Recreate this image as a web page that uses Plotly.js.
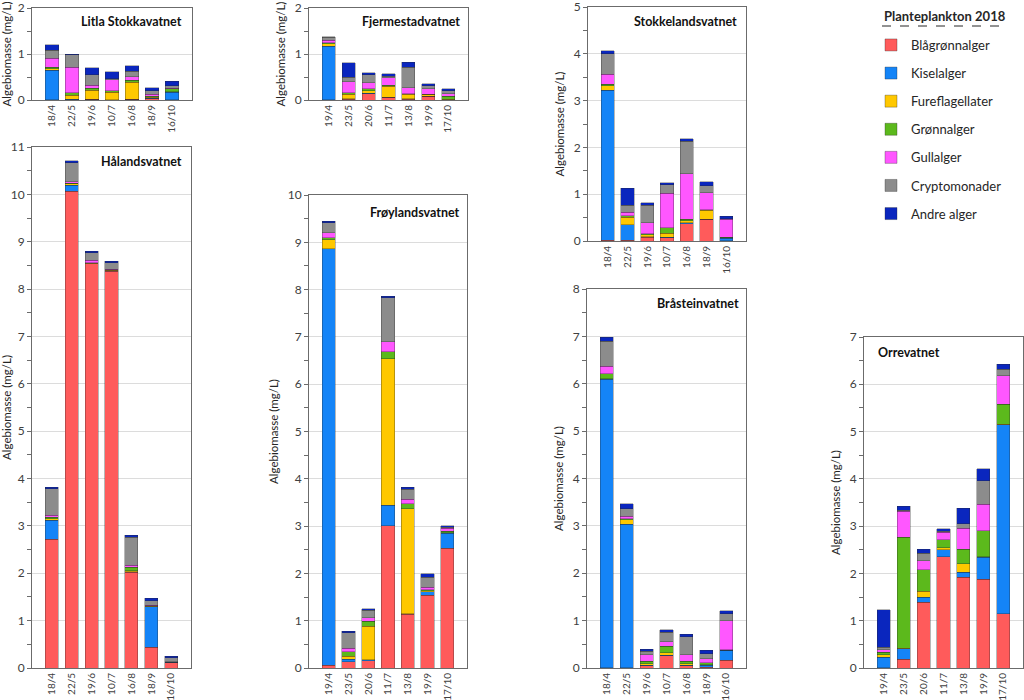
<!DOCTYPE html>
<html>
<head>
<meta charset="utf-8">
<script src="https://cdn.plot.ly/plotly-3.0.1.min.js"></script>
<style>html,body{margin:0;padding:0;background:#fff;}#chart{width:1024px;height:700px;}</style>
</head>
<body>
<div id="chart"></div>
<script>
// ---------- categories ----------
const datesA = ['18/4','22/5','19/6','10/7','16/8','18/9','16/10'];
const datesB = ['19/4','23/5','20/6','11/7','13/8','19/9','17/10'];

const groupNames = ['Blågrønnalger','Kiselalger','Fureflagellater','Grønnalger','Gullalger','Cryptomonader','Andre alger'];
const groupColors = ['#FF5B5B','#1484F7','#FFC800','#5CB91C','#FF57FF','#8C8C8C','#0A26BE'];

// ---------- Litla Stokkavatnet ----------
const litla_blaagronn = [0.01,0.01,0.02,0.01,0.02,0.03,0.01];
const litla_kisel     = [0.64,0.01,0.00,0.00,0.00,0.01,0.16];
const litla_fure      = [0.03,0.08,0.19,0.16,0.37,0.02,0.01];
const litla_gronn     = [0.03,0.06,0.05,0.03,0.04,0.02,0.06];
const litla_gull      = [0.20,0.55,0.06,0.24,0.08,0.05,0.02];
const litla_crypto    = [0.17,0.27,0.23,0.02,0.11,0.07,0.05];
const litla_andre     = [0.12,0.01,0.15,0.15,0.13,0.07,0.10];

// ---------- Fjermestadvatnet ----------
const fjerm_blaagronn = [0.01,0.02,0.14,0.06,0.02,0.08,0.01];
const fjerm_kisel     = [1.16,0.01,0.01,0.00,0.01,0.00,0.00];
const fjerm_fure      = [0.05,0.09,0.05,0.24,0.09,0.04,0.01];
const fjerm_gronn     = [0.03,0.04,0.05,0.02,0.02,0.01,0.06];
const fjerm_gull      = [0.05,0.24,0.12,0.16,0.13,0.12,0.06];
const fjerm_crypto    = [0.06,0.09,0.18,0.04,0.44,0.06,0.06];
const fjerm_andre     = [0.02,0.32,0.04,0.05,0.11,0.04,0.05];

// ---------- Stokkelandsvatnet ----------
const stokk_blaagronn = [0.02,0.02,0.08,0.07,0.37,0.46,0.01];
const stokk_kisel     = [3.20,0.33,0.01,0.01,0.02,0.01,0.05];
const stokk_fure      = [0.10,0.16,0.04,0.09,0.04,0.19,0.01];
const stokk_gronn     = [0.03,0.03,0.02,0.11,0.04,0.01,0.01];
const stokk_gull      = [0.21,0.07,0.24,0.74,0.97,0.36,0.38];
const stokk_crypto    = [0.44,0.15,0.37,0.18,0.69,0.15,0.02];
const stokk_andre     = [0.06,0.37,0.06,0.05,0.06,0.09,0.05];

// ---------- Hålandsvatnet ----------
const haal_blaagronn  = [2.72,10.07,8.53,8.38,2.02,0.44,0.11];
const haal_kisel      = [0.40,0.12,0.01,0.01,0.01,0.85,0.01];
const haal_fure       = [0.03,0.03,0.01,0.01,0.02,0.01,0.00];
const haal_gronn      = [0.03,0.02,0.01,0.01,0.08,0.01,0.01];
const haal_gull       = [0.05,0.03,0.05,0.01,0.04,0.01,0.00];
const haal_crypto     = [0.55,0.40,0.16,0.14,0.59,0.10,0.09];
const haal_andre      = [0.04,0.04,0.03,0.03,0.04,0.05,0.03];

// ---------- Frøylandsvatnet ----------
const froy_blaagronn  = [0.06,0.13,0.15,3.01,1.14,1.54,2.53];
const froy_kisel      = [8.80,0.06,0.02,0.43,0.01,0.07,0.32];
const froy_fure       = [0.19,0.06,0.71,3.10,2.22,0.02,0.01];
const froy_gronn      = [0.05,0.09,0.11,0.15,0.10,0.02,0.03];
const froy_gull       = [0.10,0.08,0.07,0.21,0.10,0.06,0.06];
const froy_crypto     = [0.21,0.33,0.16,0.93,0.21,0.21,0.03];
const froy_andre      = [0.03,0.03,0.03,0.03,0.04,0.07,0.03];

// ---------- Bråsteinvatnet ----------
const braa_blaagronn  = [0.01,0.01,0.05,0.26,0.05,0.02,0.16];
const braa_kisel      = [6.08,3.02,0.01,0.01,0.01,0.04,0.21];
const braa_fure       = [0.02,0.10,0.03,0.05,0.03,0.01,0.01];
const braa_gronn      = [0.10,0.02,0.05,0.14,0.05,0.04,0.01];
const braa_gull       = [0.16,0.05,0.14,0.09,0.14,0.09,0.61];
const braa_crypto     = [0.53,0.16,0.07,0.20,0.38,0.10,0.14];
const braa_andre      = [0.08,0.11,0.05,0.06,0.05,0.07,0.07];

// ---------- Orrevatnet ----------
const orre_blaagronn  = [0.01,0.19,1.39,2.35,1.92,1.88,1.15];
const orre_kisel      = [0.22,0.22,0.11,0.15,0.11,0.46,3.99];
const orre_fure       = [0.05,0.01,0.12,0.04,0.17,0.01,0.01];
const orre_gronn      = [0.05,2.35,0.46,0.17,0.31,0.55,0.43];
const orre_gull       = [0.06,0.55,0.19,0.16,0.45,0.56,0.60];
const orre_crypto     = [0.05,0.02,0.16,0.02,0.09,0.50,0.14];
const orre_andre      = [0.79,0.08,0.08,0.06,0.33,0.25,0.10];

const lakeNames = ['Litla Stokkavatnet','Fjermestadvatnet','Stokkelandsvatnet','Hålandsvatnet','Frøylandsvatnet','Bråsteinvatnet','Orrevatnet'];
const lakeDates = [datesA, datesB, datesA, datesA, datesB, datesA, datesB];
const lakeYMax  = [2, 2, 5, 11, 10, 8, 7];
const lakeSeries = [
  [litla_blaagronn, litla_kisel, litla_fure, litla_gronn, litla_gull, litla_crypto, litla_andre],
  [fjerm_blaagronn, fjerm_kisel, fjerm_fure, fjerm_gronn, fjerm_gull, fjerm_crypto, fjerm_andre],
  [stokk_blaagronn, stokk_kisel, stokk_fure, stokk_gronn, stokk_gull, stokk_crypto, stokk_andre],
  [haal_blaagronn, haal_kisel, haal_fure, haal_gronn, haal_gull, haal_crypto, haal_andre],
  [froy_blaagronn, froy_kisel, froy_fure, froy_gronn, froy_gull, froy_crypto, froy_andre],
  [braa_blaagronn, braa_kisel, braa_fure, braa_gronn, braa_gull, braa_crypto, braa_andre],
  [orre_blaagronn, orre_kisel, orre_fure, orre_gronn, orre_gull, orre_crypto, orre_andre]
];

// ---------- layout geometry (pixels) ----------
const W = 1024, H = 700;
const boxes = [ // [left, right, top, bottom]
  [32, 192, 8, 100],
  [309, 468, 8, 100],
  [588, 746, 7, 241],
  [32, 191, 147, 668],
  [309, 467, 195, 668],
  [587, 746, 289, 668],
  [864, 1023, 337, 668]
];
const labelPos = [ // [x, y, anchor]
  [184, 21, 'right'],
  [462, 21, 'right'],
  [739, 21, 'right'],
  [184, 161, 'right'],
  [462, 212, 'right'],
  [741, 303, 'right'],
  [876, 352, 'left']
];

const FONT = 'Lato, "Open Sans", sans-serif';
const px = v => v / W;
const py = v => 1 - v / H;

const traces = [];
const layout = {
  width: W, height: H,
  margin: {l: 0, r: 0, t: 0, b: 0},
  paper_bgcolor: '#fff', plot_bgcolor: '#fff',
  font: {family: FONT, color: '#404040'},
  barmode: 'stack',
  bargap: 0.34,
  showlegend: true,
  legend: {
    x: px(871), xanchor: 'left', y: py(30), yanchor: 'top',
    traceorder: 'grouped', tracegroupgap: 8.2,
    font: {family: FONT, size: 13, color: '#262626'},
    bgcolor: 'rgba(0,0,0,0)'
  },
  annotations: [{
    text: '<b>Planteplankton 2018</b>', xref: 'paper', yref: 'paper',
    x: px(882), y: py(16), xanchor: 'left', yanchor: 'middle', showarrow: false,
    font: {family: FONT, size: 13, color: '#262626'}
  }],
  shapes: [{
    type: 'line', xref: 'paper', yref: 'paper',
    x0: px(882), x1: px(999), y0: py(26), y1: py(26),
    line: {color: '#262626', width: 1, dash: 'dash'}
  }]
};

lakeNames.forEach((lake, i) => {
  const k = i + 1;
  const xa = 'x' + k, ya = 'y' + k;
  lakeSeries[i].forEach((vals, g) => {
    traces.push({
      type: 'bar',
      x: lakeDates[i], y: vals,
      name: groupNames[g],
      legendgroup: groupNames[g],
      showlegend: i === 0,
      xaxis: xa, yaxis: ya,
      marker: {color: groupColors[g], line: {color: 'rgba(40,40,40,0.55)', width: 0.6}},
      hovertemplate: lake + '<br>%{x}: %{y} mg/L<extra>' + groupNames[g] + '</extra>'
    });
  });
  const b = boxes[i];
  layout['xaxis' + k] = {
    domain: [px(b[0]), px(b[1])], anchor: ya,
    type: 'category', range: [-1, 7],
    tickangle: -90, ticks: '', showgrid: false, zeroline: false,
    showline: true, mirror: true, linecolor: '#6b6b6b', linewidth: 1,
    tickfont: {family: FONT, size: 10, color: '#404040'},
    ticklabeloverflow: 'allow',
    fixedrange: true
  };
  layout['yaxis' + k] = {
    domain: [py(b[3]), py(b[2])], anchor: xa,
    range: [0, lakeYMax[i]], dtick: 1, tick0: 0,
    ticks: 'outside', ticklen: 4, tickcolor: '#6b6b6b',
    showgrid: true, gridcolor: '#DCDCDC', gridwidth: 1, zeroline: false,
    showline: true, mirror: true, linecolor: '#6b6b6b', linewidth: 1,
    minor: {dtick: 0.5, tick0: 0, ticks: 'outside', ticklen: 4, tickcolor: '#6b6b6b', showgrid: false},
    tickfont: {family: FONT, size: 12, color: '#404040'},
    ticklabeloverflow: 'allow',
    title: {text: 'Algebiomasse (mg/L)', standoff: 6, font: {family: FONT, size: 11.5, color: '#262626'}},
    fixedrange: true
  };
  const lp = labelPos[i];
  layout.annotations.push({
    text: '<b>' + lake + '</b>', xref: 'paper', yref: 'paper',
    x: px(lp[0]), y: py(lp[1]), xanchor: lp[2], yanchor: 'middle',
    showarrow: false, font: {family: FONT, size: 12.5, color: '#111'}
  });
});

Plotly.newPlot('chart', traces, layout, {displayModeBar: false});
</script>
</body>
</html>
